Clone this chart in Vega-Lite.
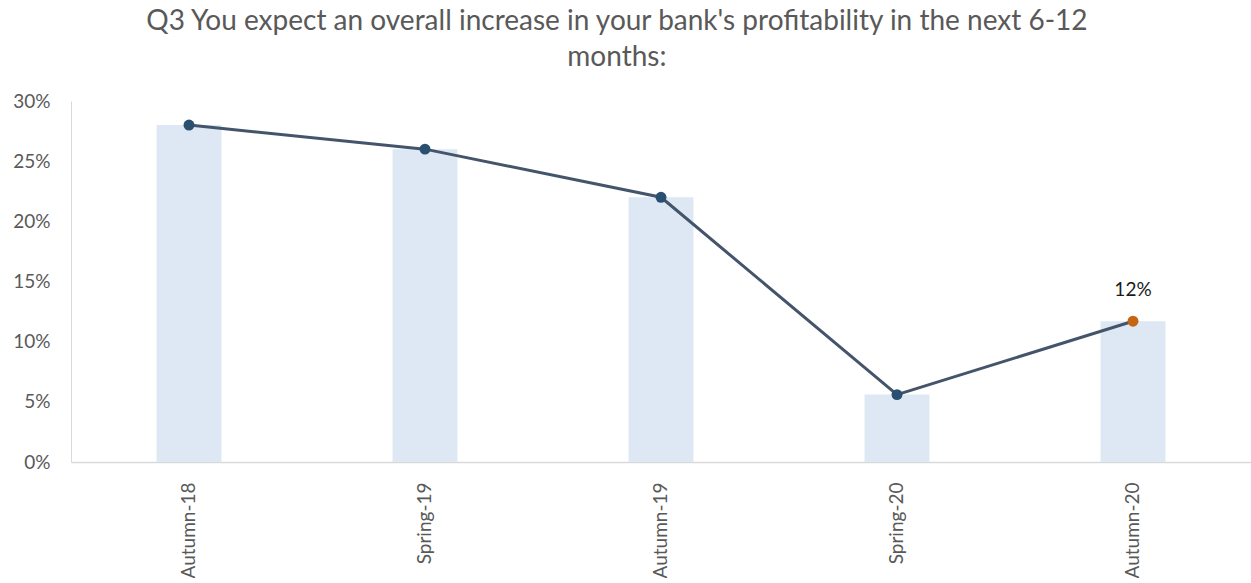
{
  "$schema": "https://vega.github.io/schema/vega-lite/v6.json",
  "width": 1180,
  "height": 361,
  "padding": {"left": 12, "top": 8, "right": 0, "bottom": 0},
  "background": "white",
  "config": {"view": {"stroke": null}, "font": "Lato"},
  "title": {
    "text": ["Q3 You expect an overall increase in your bank's profitability in the next 6-12", "months:"],
    "anchor": "middle",
    "frame": "bounds",
    "dx": -15,
    "font": "Lato",
    "fontSize": 28,
    "fontWeight": "normal",
    "color": "#595959",
    "lineHeight": 36,
    "offset": 13
  },
  "data": {
    "values": [
      {"wave": "Autumn-18", "share": 0.28, "current": false, "label": ""},
      {"wave": "Spring-19", "share": 0.26, "current": false, "label": ""},
      {"wave": "Autumn-19", "share": 0.22, "current": false, "label": ""},
      {"wave": "Spring-20", "share": 0.056, "current": false, "label": ""},
      {"wave": "Autumn-20", "share": 0.117, "current": true, "label": "12%"}
    ]
  },
  "encoding": {
    "x": {
      "field": "wave",
      "type": "nominal",
      "sort": null,
      "scale": {"paddingInner": 0.725, "paddingOuter": 0.3625},
      "axis": {
        "title": null,
        "labelAngle": -90,
        "labelFont": "Lato",
        "labelFontSize": 19,
        "labelColor": "#595959",
        "ticks": false,
        "labelPadding": 20,
        "domainColor": "#d9d9d9",
        "domainWidth": 1.5
      }
    },
    "y": {
      "field": "share",
      "type": "quantitative",
      "scale": {"domain": [0, 0.3], "nice": false},
      "axis": {
        "title": null,
        "values": [0, 0.05, 0.1, 0.15, 0.2, 0.25, 0.3],
        "format": ".0%",
        "grid": false,
        "ticks": false,
        "labelFont": "Lato",
        "labelFontSize": 19,
        "labelColor": "#595959",
        "labelPadding": 21,
        "domainColor": "#d9d9d9",
        "domainWidth": 1
      }
    }
  },
  "layer": [
    {"mark": {"type": "bar", "color": "#dde8f4"}},
    {"mark": {"type": "line", "color": "#44546a", "strokeWidth": 3}},
    {
      "transform": [{"filter": "!datum.current"}],
      "mark": {"type": "point", "filled": true, "size": 120, "opacity": 1, "color": "#2b4f70"}
    },
    {
      "transform": [{"filter": "datum.current"}],
      "mark": {"type": "point", "filled": true, "size": 120, "opacity": 1, "color": "#c5650f"}
    },
    {
      "mark": {"type": "text", "dy": -31, "font": "Lato", "fontSize": 19, "color": "#1a1a1a"},
      "encoding": {"text": {"field": "label"}}
    }
  ]
}
